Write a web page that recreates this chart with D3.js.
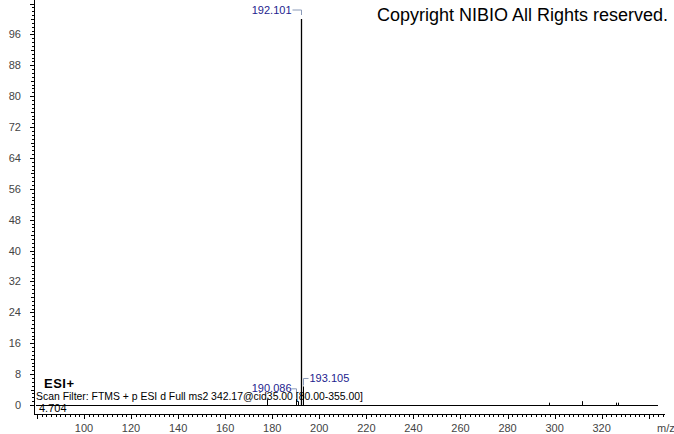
<!DOCTYPE html>
<html><head><meta charset="utf-8">
<script src="https://cdn.jsdelivr.net/npm/d3@7"></script>
<style>
html,body{margin:0;padding:0;background:#fff;}
svg{display:block;font-family:"Liberation Sans",Arial,sans-serif;}
</style></head>
<body><svg id="c" width="674" height="434"></svg>
<script>
// ---- data ----
const peakMz  = [177.7, 190.086, 191.09, 192.101, 193.105, 297.5, 311.5, 326.0, 326.8];
const peakInt = [1.5,   1.6,     0.9,    100,     4.8,     0.6,   1.0,   0.6,   0.6];
const labeledMz = [192.101, 193.105, 190.086];
const xTickValues = [100,120,140,160,180,200,220,240,260,280,300,320];
const yTickValues = [0,8,16,24,32,40,48,56,64,72,80,88,96];
const titleText = "Copyright NIBIO All Rights reserved.";
const filterText = "Scan Filter: FTMS + p ESI d Full ms2 342.17@cid35.00 [80.00-355.00]";
const modeText = "ESI+";
const rtText = "4.704";
const xDomain = [78.77, 346.9];

// ---- layout ----
const svg = d3.select("#c");
const x = d3.scaleLinear().domain(xDomain).range([34, 665]);
const y = d3.scaleLinear().domain([0, 100]).range([405, 19]);
const axisY = 414;
const tickColor = "#444";

// y axis
svg.append("line").attr("x1",34.5).attr("x2",34.5).attr("y1",0).attr("y2",axisY)
  .attr("stroke","#000").attr("stroke-width",1);
const yMinor = d3.range(0, 105, 1);
svg.append("g").selectAll("line").data(yMinor).join("line")
  .attr("x1", d => d % 8 === 0 ? 30 : (d % 4 === 0 ? 31 : 32))
  .attr("x2", 34)
  .attr("y1", d => Math.round(y(d)) + 0.5).attr("y2", d => Math.round(y(d)) + 0.5)
  .attr("stroke","#000").attr("stroke-width",1);
svg.append("g").selectAll("text").data(yTickValues).join("text")
  .attr("x", 21).attr("y", d => y(d) + 4)
  .attr("text-anchor","end").attr("font-size",11).attr("fill",tickColor)
  .text(d => d);

// x axis
svg.append("line").attr("x1",34).attr("x2",665).attr("y1",axisY+0.5).attr("y2",axisY+0.5)
  .attr("stroke","#000").attr("stroke-width",1);
const xMinor = d3.range(80, 347, 2);
svg.append("g").selectAll("line").data(xMinor).join("line")
  .attr("x1", d => Math.round(x(d)) + 0.5).attr("x2", d => Math.round(x(d)) + 0.5)
  .attr("y1", axisY).attr("y2", d => d % 20 === 0 ? axisY + 5 : axisY + 3)
  .attr("stroke","#000").attr("stroke-width",1);
svg.append("g").selectAll("text").data(xTickValues).join("text")
  .attr("x", d => x(d)).attr("y", 432)
  .attr("text-anchor","middle").attr("font-size",11).attr("fill",tickColor)
  .text(d => d);
svg.append("text").attr("x",657).attr("y",432).attr("font-size",11).attr("fill",tickColor).text("m/z");

// baseline
svg.append("line").attr("x1",36).attr("x2",658).attr("y1",y(0)+0.5).attr("y2",y(0)+0.5)
  .attr("stroke","#000").attr("stroke-width",1);

// peaks
const peaks = peakMz.map((m,i)=>({mz:m, int:peakInt[i]}));
svg.append("g").selectAll("line").data(peaks).join("line")
  .attr("x1", d => Math.round(x(d.mz)) + 0.5).attr("x2", d => Math.round(x(d.mz)) + 0.5)
  .attr("y1", y(0)).attr("y2", d => y(d.int))
  .attr("stroke","#000").attr("stroke-width", d => d.int > 50 ? 1.3 : 1);

// labels
const labColor = "#23238e", brColor = "#8a9ab8";
const lab = svg.append("g");
labeledMz.forEach((m) => {
  const p = peaks.find(d => d.mz === m);
  const px = Math.round(x(m)) + 0.5, py = y(p.int);
  if (p.int > 50) {
    lab.append("path").attr("d", `M${px-9},${py-9}H${px}V${py-4}`).attr("fill","none").attr("stroke",brColor);
    lab.append("text").attr("x", px-10).attr("y", py-5).attr("text-anchor","end")
      .attr("font-size",11).attr("fill",labColor).text(m.toFixed(3));
  } else if (m > 192) {
    lab.append("path").attr("d", `M${px},${py-1}V${py-8}H${px+5}`).attr("fill","none").attr("stroke",brColor);
    lab.append("text").attr("x", px+6).attr("y", py-4).attr("text-anchor","start")
      .attr("font-size",11).attr("fill",labColor).text(m.toFixed(3));
  } else {
    lab.append("path").attr("d", `M${px-5},${py-10}H${px}V${py-1}`).attr("fill","none").attr("stroke",brColor);
    lab.append("text").attr("x", px-5).attr("y", py-7).attr("text-anchor","end")
      .attr("font-size",11).attr("fill",labColor).text(m.toFixed(3));
  }
});

// texts
svg.append("text").attr("x",377).attr("y",21).attr("font-size",18).attr("fill","#000").text(titleText);
svg.append("text").attr("x",44).attr("y",388).attr("font-size",13).attr("font-weight","bold").attr("letter-spacing",0.5).attr("fill","#000").text(modeText);
svg.append("text").attr("x",36).attr("y",400).attr("font-size",10.5).attr("textLength",327).attr("lengthAdjust","spacingAndGlyphs").attr("fill","#000").text(filterText);
svg.append("text").attr("x",39).attr("y",412).attr("font-size",11).attr("fill","#000").text(rtText);
</script></body></html>
